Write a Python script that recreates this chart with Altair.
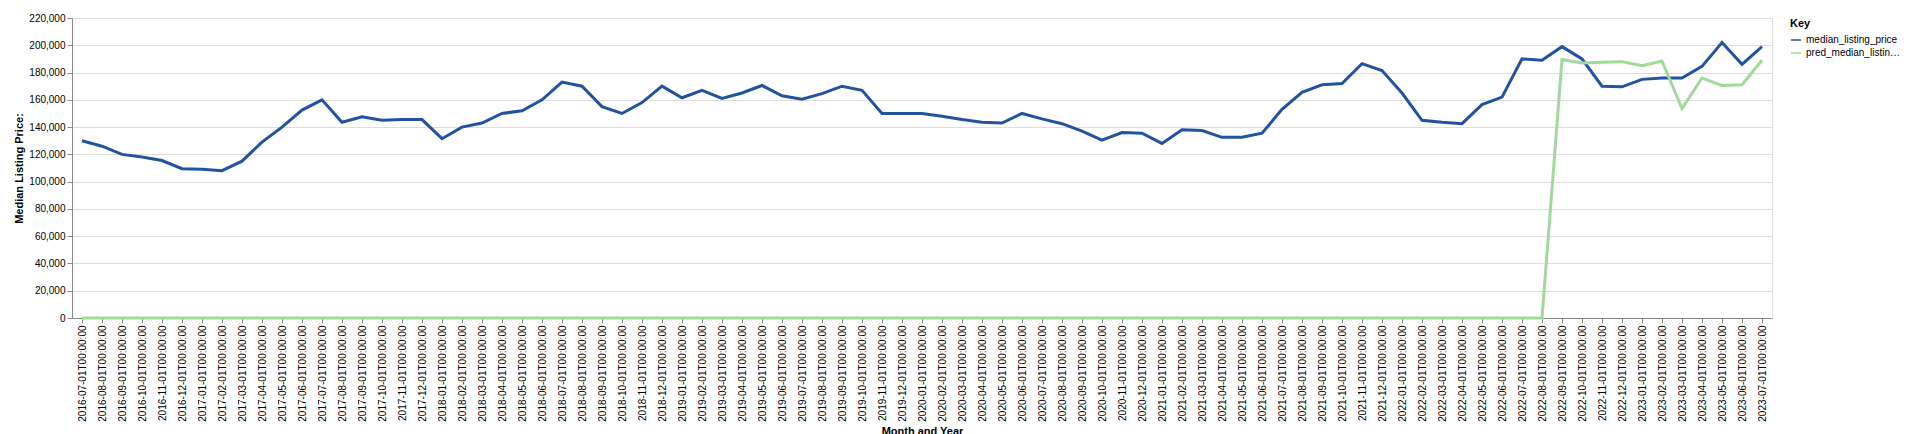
import pandas as pd
import altair as alt

months = pd.date_range("2016-07-01", "2023-07-01", freq="MS").strftime("%Y-%m-%dT%H:%M:%S").tolist()

median_listing_price = [
    130000, 126000, 120000, 118000, 115500, 109500,
    109000, 108000, 115000, 129000, 140000, 152500, 160000, 143500, 147500, 145000, 145500, 145500,
    131500, 140000, 143000, 150000, 152000, 160000, 173000, 170000, 155000, 150000, 158000, 170000,
    161500, 167000, 161000, 165000, 170500, 163000, 160500, 164500, 170000, 167000, 150000, 150000,
    150000, 148000, 145500, 143500, 143000, 150000, 146000, 142500, 137000, 130500, 136000, 135500,
    128000, 138000, 137500, 132500, 132500, 135500, 153000, 165500, 171000, 172000, 186500, 181500,
    165000, 145000, 143500, 142500, 156500, 162000, 190000, 189000, 199000, 190000, 170000, 169500,
    175000, 176000, 176000, 184500, 202000, 186000, 199000,
]

pred_median_listing_price = [0] * 74 + [
    189500, 187000, 187500, 188000, 185000, 188500, 153500, 176000, 170500, 171000, 189000,
]

df = pd.DataFrame({
    "month": months,
    "median_listing_price": median_listing_price,
    "pred_median_listing_price": pred_median_listing_price,
})

chart = alt.Chart(df).transform_fold(
    ["median_listing_price", "pred_median_listing_price"], as_=["Key", "value"]
).mark_line(strokeWidth=3).encode(
    x=alt.X("month:O", title="Month and Year", axis=alt.Axis(labelAngle=-90)),
    y=alt.Y("value:Q", title="Median Listing Price:",
            scale=alt.Scale(domain=[0, 220000]),
            axis=alt.Axis(format=",d", tickCount=11)),
    color=alt.Color("Key:N",
                    scale=alt.Scale(domain=["median_listing_price", "pred_median_listing_price"],
                                    range=["#22539e", "#a1d99b"]),
                    legend=alt.Legend(labelLimit=95, symbolType="stroke")),
).properties(
    width=1700,
    height=300,
)

chart.save("out.html", embed_options={"renderer": "svg", "actions": False})
